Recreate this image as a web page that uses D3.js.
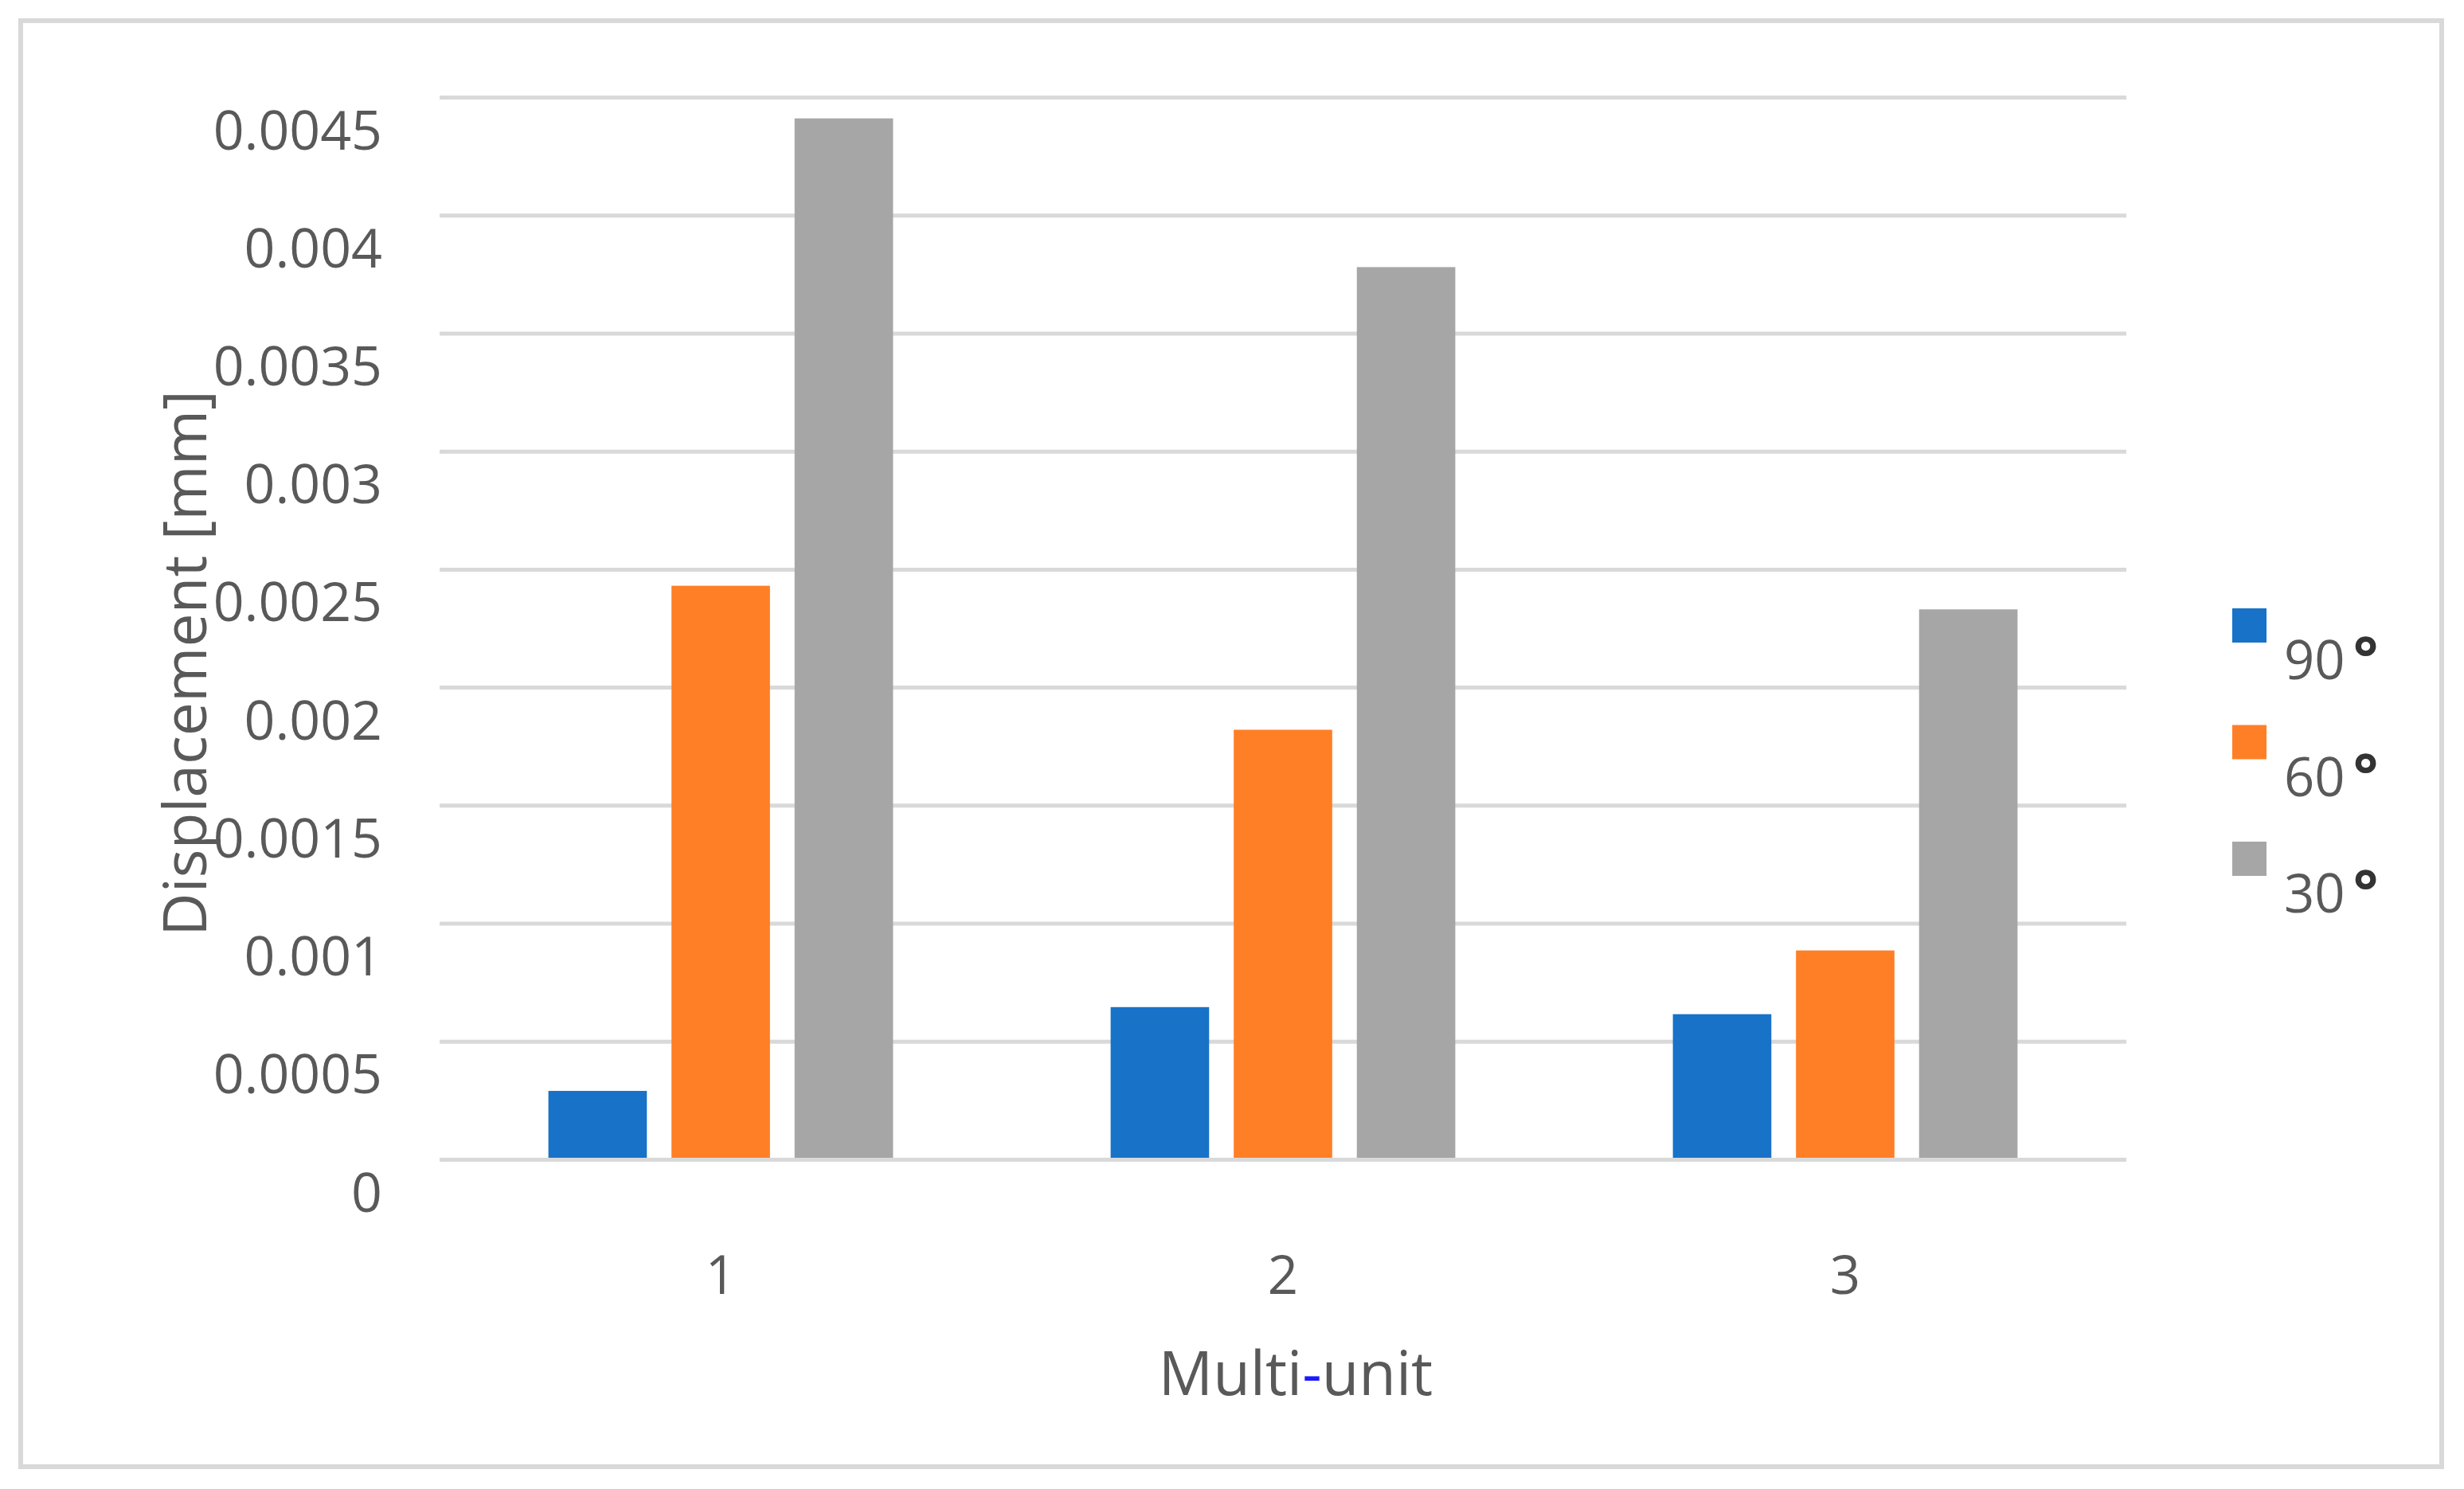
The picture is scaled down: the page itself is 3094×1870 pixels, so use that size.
<!DOCTYPE html>
<html>
<head>
<meta charset="utf-8">
<script src="https://cdn.jsdelivr.net/npm/d3@7"></script>
<style>
  html, body { margin: 0; padding: 0; background: #fff; }
  svg { display: block; font-family: "Open Sans", sans-serif; }
</style>
</head>
<body>
<svg id="chart"></svg>
<script>
(function () {

    var categories = ["1", "2", "3"];
    var seriesNames = ["90°", "60°", "30°"];
    var values90 = [0.00029, 0.000645, 0.000615];
    var values60 = [0.00243, 0.00182, 0.000885];
    var values30 = [0.00441, 0.00378, 0.00233];
    var yTicks = [0, 0.0005, 0.001, 0.0015, 0.002, 0.0025, 0.003, 0.0035, 0.004, 0.0045];
    var yTickLabels = ["0", "0.0005", "0.001", "0.0015", "0.002", "0.0025", "0.003", "0.0035", "0.004", "0.0045"];
    var colors = ["#1872c8", "#ff7f27", "#a6a6a6"];

    var chartWidth = 3094;
    var chartHeight = 1870;
    var plotLeft = 552;
    var plotRight = 2670;
    var plotTop = 122;
    var plotBottom = 1456;
    var textColor = "#595959";
    var gridColor = "#d9d9d9";

    var seriesValues = [values90, values60, values30];
    var rows = categories.map(function (c, i) {
        return {
            category: c,
            bars: seriesNames.map(function (s, j) {
                return { series: s, value: seriesValues[j][i], color: colors[j] };
            })
        };
    });

    var svg = d3.select("#chart")
        .attr("width", chartWidth)
        .attr("height", chartHeight);

    // outer frame
    svg.append("rect")
        .attr("x", 26)
        .attr("y", 26)
        .attr("width", 3040)
        .attr("height", 1816)
        .attr("fill", "#fff")
        .attr("stroke", gridColor)
        .attr("stroke-width", 6);

    var xScale = d3.scaleBand()
        .domain(categories)
        .range([plotLeft, plotRight])
        .paddingInner(0.387)
        .paddingOuter(0.1935);

    var xInner = d3.scaleBand()
        .domain(seriesNames)
        .range([0, xScale.bandwidth()])
        .paddingInner(0.2);

    var yScale = d3.scaleLinear()
        .domain([0, 0.0045])
        .range([plotBottom, plotTop]);

    // y axis with gridlines
    var yAxis = d3.axisLeft(yScale)
        .tickValues(yTicks)
        .tickFormat(function (d, i) { return yTickLabels[i]; })
        .tickSize(-(plotRight - plotLeft))
        .tickPadding(72);

    var yAxisG = svg.append("g")
        .attr("transform", "translate(" + plotLeft + ",0)")
        .call(yAxis);
    yAxisG.select(".domain").remove();
    yAxisG.selectAll(".tick line")
        .attr("stroke", gridColor)
        .attr("stroke-width", 5);
    yAxisG.selectAll(".tick text")
        .attr("y", 65)
        .attr("dy", 0)
        .attr("fill", textColor)
        .style("font-size", "68px")
        .style("font-family", "'Open Sans', sans-serif");

    // bars
    var groups = svg.selectAll("g.group")
        .data(rows)
        .enter()
        .append("g")
        .attr("class", "group")
        .attr("transform", d => "translate(" + xScale(d.category) + ",0)");

    groups.selectAll("rect")
        .data(d => d.bars)
        .enter()
        .append("rect")
        .attr("x", d => xInner(d.series))
        .attr("y", d => yScale(d.value))
        .attr("width", xInner.bandwidth())
        .attr("height", d => yScale(0) - yScale(d.value) - 2)
        .attr("fill", d => d.color);

    // x axis labels
    var xAxis = d3.axisBottom(xScale).tickSize(0).tickPadding(0);
    var xAxisG = svg.append("g")
        .attr("transform", "translate(0," + plotBottom + ")")
        .call(xAxis);
    xAxisG.select(".domain").remove();
    xAxisG.selectAll(".tick text")
        .attr("y", 169)
        .attr("dy", 0)
        .attr("fill", textColor)
        .style("font-size", "67px")
        .style("font-family", "'Open Sans', sans-serif");

    // axis titles
    var xTitle = svg.append("text")
        .attr("x", 1627)
        .attr("y", 1752)
        .attr("text-anchor", "middle")
        .attr("fill", textColor)
        .style("font-size", "76px");
    xTitle.append("tspan").text("Multi");
    xTitle.append("tspan").attr("fill", "#1a1aff").text("-");
    xTitle.append("tspan").text("unit");

    svg.append("text")
        .attr("transform", "translate(259,833) rotate(-90)")
        .attr("text-anchor", "middle")
        .attr("fill", textColor)
        .style("font-size", "75px")
        .text("Displacement [mm]");

    // legend
    var legend = svg.selectAll("g.legendEntry")
        .data(seriesNames)
        .enter()
        .append("g")
        .attr("class", "legendEntry")
        .attr("transform", (d, i) => "translate(2803," + (764 + i * 146.5) + ")");
    legend.append("rect")
        .attr("width", 43)
        .attr("height", 43)
        .attr("fill", (d, i) => colors[i]);
    var legendText = legend.append("text")
        .attr("x", 65)
        .attr("y", 89)
        .attr("fill", textColor)
        .style("font-size", "67px");
    legendText.append("tspan").text(d => d.replace("°", ""));
    legendText.append("tspan")
        .attr("dx", 10)
        .attr("fill", "#333")
        .style("font-weight", "bold")
        .style("font-size", "74px")
        .text("°");

})();
</script>
</body>
</html>
